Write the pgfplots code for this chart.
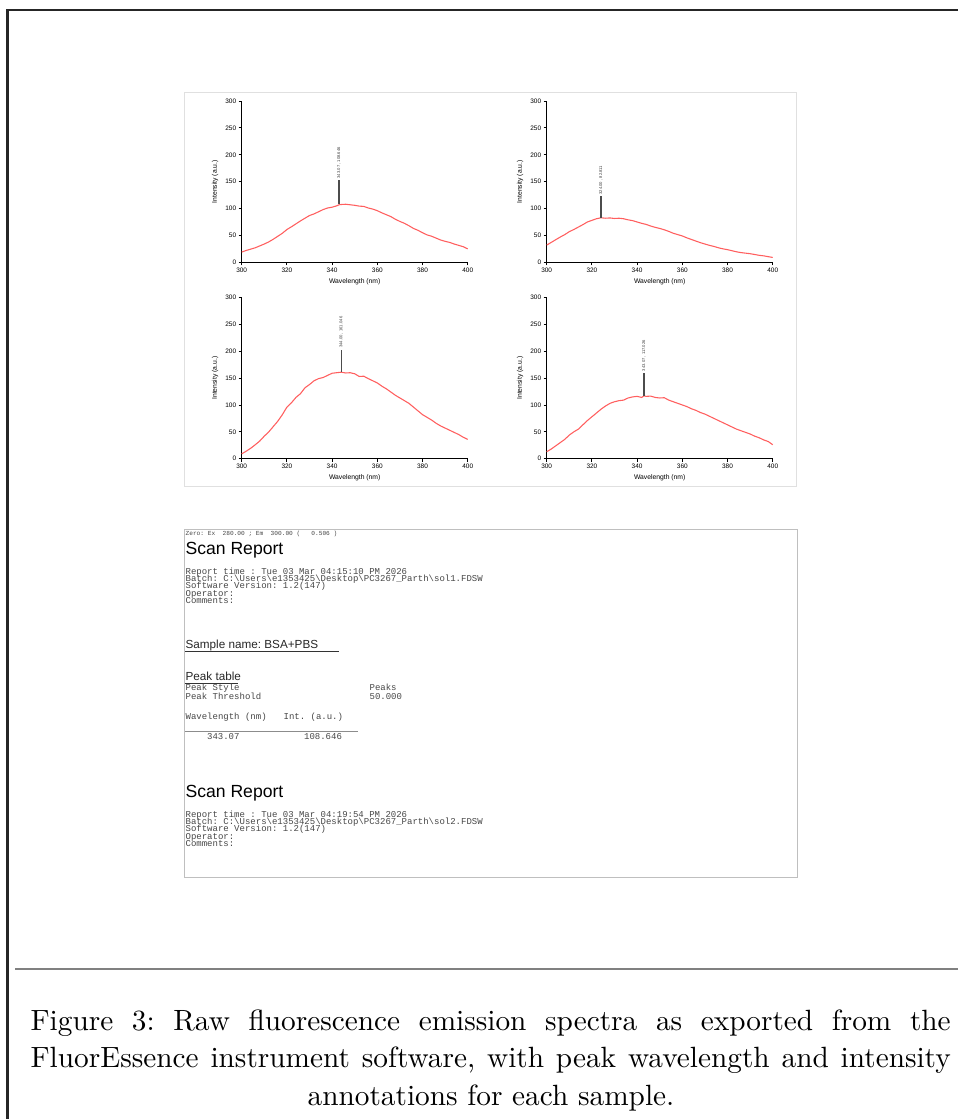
\documentclass[border=0pt]{standalone}
\usepackage{fontspec}
\usepackage{pgfplots}
\pgfplotsset{compat=1.18}
\newfontfamily\arial{Liberation Sans}
\newfontfamily\cour{Liberation Mono}
\definecolor{spec}{RGB}{255,95,95}
\definecolor{txtgray}{RGB}{70,70,70}
\pgfplotsset{specax/.style={
  scale only axis, width=73.3pt, height=52.3pt,
  xmin=300, xmax=400, ymin=0, ymax=300,
  axis lines=left, axis line style={-, line width=0.35pt, black},
  xtick={300,320,340,360,380,400}, ytick={0,50,100,150,200,250,300},
  tick align=outside, major tick length=1pt,
  tick style={line width=0.3pt, black},
  /pgf/number format/assume math mode=true,
  ticklabel style={font=\arial\fontsize{2.1}{2.3}\selectfont, inner sep=0.6pt},
  xlabel={Wavelength (nm)}, ylabel={Intensity (a.u.)},
  label style={font=\arial\fontsize{2.2}{2.4}\selectfont, inner sep=0pt},
  xlabel style={at={(axis description cs:0.5,0)}, anchor=north, yshift=-5.1pt},
  ylabel style={at={(axis description cs:-0.118,0.5)}, anchor=center},
  anchor=south west, clip=false,
}}
\pgfplotstableread{
x y
300 19
302 22
304 24.5
306 27
308 30.5
310 34
312 38
314 43
316 48.5
318 54
320 61
322 66
324 71.5
326 77
328 82
330 87
332 90
334 94
336 98
338 101
340 102.5
342 105
343.07 107
344 107.5
346 108
348 107
350 106
352 104.5
354 104
356 101
358 99
360 96
362 92
364 88.5
366 85
368 80
370 76
372 72.5
374 68
376 63
378 59.5
380 55
382 51
384 48.5
386 45
388 41.5
390 39
392 37
394 34
396 31.5
398 29
400 25
}\specA
\pgfplotstableread{
x y
300 32
302 37
304 42
306 47
308 51.5
310 57
312 61
314 65.5
316 70
318 75
320 78
322 81
324 82.8
326 82
328 82.5
330 81.5
332 82
334 81
336 79
338 77.5
340 75
342 72.5
344 70.5
346 67.5
348 65
350 63
352 60.5
354 57.5
356 54
358 51.5
360 49
362 45.5
364 42.5
366 39.5
368 36.5
370 34
372 31.5
374 29.5
376 27
378 25
380 23.5
382 21.5
384 19.5
386 18
388 17
390 16
392 14.5
394 13
396 12
398 10.5
400 9
}\specB
\pgfplotstableread{
x y
300 9
302 14
304 19.5
306 26
308 33
310 42
312 50
314 60
316 70
318 82
320 96
322 104
324 114
326 121
328 132
330 138
332 145
334 149
336 151
338 155
340 159
342 160
344 161
346 159.5
348 160
350 158
352 153
354 153.5
356 149
358 145
360 141
362 135
364 130
366 124
368 118
370 113
372 108
374 103
376 96
378 89
380 82
382 77
384 72
386 66
388 61
390 57
392 53
394 49
396 45
398 40
400 36
}\specC
\pgfplotstableread{
x y
300 13
302 18
304 24
306 30
308 36
310 44
312 50
314 55
316 63
318 71
320 78
322 85
324 92
326 98
328 103
330 106
332 108
334 109
336 113
338 115
340 116
342 114
343.07 117
344 116
346 116.5
348 114
350 113
352 113.5
354 109
356 106
358 103
360 100
362 97
364 93
366 90
368 86
370 83
372 79
374 75
376 71
378 67
380 63
382 59
384 55
386 52
388 49
390 46
392 42
394 39
396 35
398 32
400 26
}\specD
\newcommand{\pklabel}[1]{\arial\fontsize{1.35}{1.4}\selectfont #1}
\begin{document}
\frenchspacing
\begin{tikzpicture}
\begin{scope}[x=0.3243pt, y=-0.3243pt]
\useasboundingbox (0,0) rectangle (958,1119);
% frame
\draw[line width=0.65pt, black!85] (7.5,1119) -- (7.5,10) -- (958,10);
\draw[line width=0.65pt, black!50] (15,969) -- (958,969);
% image box
\draw[line width=0.3pt, black!12] (184,92) rectangle (796,486);
% report box
\draw[line width=0.3pt, black!25] (184,529) rectangle (797,877);
\end{scope}

% ---- plots ----
\begin{axis}[specax, at={(78.38pt,-85.06pt)}]
\addplot[spec, line width=0.35pt, no marks] table {\specA};
\addplot[black!70, line width=0.4pt, no marks] coordinates {(343.07,108.646) (343.07,153)};
\node[rotate=90, anchor=west, inner sep=0pt, text=black!75] at (axis cs:343.07,155) {\pklabel{343.07 , 108.646}};
\end{axis}
\begin{axis}[specax, at={(177.29pt,-85.06pt)}]
\addplot[spec, line width=0.35pt, no marks] table {\specB};
\addplot[black!70, line width=0.4pt, no marks] coordinates {(324.0,82.811) (324.0,123)};
\node[rotate=90, anchor=west, inner sep=0pt, text=black!75] at (axis cs:324.0,125) {\pklabel{324.00 , 82.811}};
\end{axis}
\begin{axis}[specax, at={(78.38pt,-148.76pt)}]
\addplot[spec, line width=0.35pt, no marks] table {\specC};
\addplot[black!70, line width=0.4pt, no marks] coordinates {(344.0,161.046) (344.0,203)};
\node[rotate=90, anchor=west, inner sep=0pt, text=black!75] at (axis cs:344.0,205) {\pklabel{344.00 , 161.046}};
\end{axis}
\begin{axis}[specax, at={(177.29pt,-148.76pt)}]
\addplot[spec, line width=0.35pt, no marks] table {\specD};
\addplot[black!70, line width=0.4pt, no marks] coordinates {(343.07,117.026) (343.07,160)};
\node[rotate=90, anchor=west, inner sep=0pt, text=black!75] at (axis cs:343.07,162) {\pklabel{343.07 , 117.026}};
\end{axis}

% ---- report ----
\begin{scope}[x=0.3243pt, y=-0.3243pt, every node/.style={inner sep=0pt, anchor=base west}]
\def\mono{\cour\fontsize{2.92}{3.2}\selectfont\color{txtgray}}
\def\head{\arial\fontsize{5.7}{6}\selectfont}
\def\sub{\arial\fontsize{3.8}{4}\selectfont\color{black!85}}
\node at (185,535) {\cour\fontsize{2.0}{2.2}\selectfont\color{txtgray}Zero: Ex~~280.00 ; Em~~300.00 (~~~0.506 )};
\node at (185,554) {\head Scan Report};
\node at (185,574) {\mono Report time : Tue 03 Mar 04:15:10 PM 2026};
\node at (185,581.3) {\mono Batch: C:\textbackslash Users\textbackslash e1353425\textbackslash Desktop\textbackslash PC3267\_Parth\textbackslash sol1.FDSW};
\node at (185,588.7) {\mono Software Version: 1.2(147)};
\node at (185,596) {\mono Operator:};
\node at (185,603.3) {\mono Comments:};
\node at (185,648) {\sub Sample name: BSA+PBS};
\draw[line width=0.3pt, black!80] (185,651) -- (339,651);
\node at (185,680) {\sub Peak table};
\draw[line width=0.3pt, black!80] (185,683) -- (238,683);
\node at (185,690.7) {\mono Peak Style};
\node at (369,690.7) {\mono Peaks};
\node at (185,699.7) {\mono Peak Threshold};
\node at (369,699.7) {\mono 50.000};
\node at (185,719) {\mono Wavelength (nm)};
\node at (283,719) {\mono Int. (a.u.)};
\draw[line width=0.6pt, black!45] (185,731.5) -- (358,731.5);
\node at (206.5,739) {\mono 343.07};
\node at (303.5,739) {\mono 108.646};
\node at (185,797) {\head Scan Report};
\node at (185,817) {\mono Report time : Tue 03 Mar 04:19:54 PM 2026};
\node at (185,824.3) {\mono Batch: C:\textbackslash Users\textbackslash e1353425\textbackslash Desktop\textbackslash PC3267\_Parth\textbackslash sol2.FDSW};
\node at (185,831.6) {\mono Software Version: 1.2(147)};
\node at (185,839) {\mono Operator:};
\node at (185,846.3) {\mono Comments:};
% caption
\node at (30,1030) {\fontsize{9.5}{11}\selectfont\frenchspacing\makebox[298.4pt][s]{Figure 3: Raw fluorescence emission spectra as exported from the}};
\node at (30,1067.5) {\fontsize{9.5}{11}\selectfont\frenchspacing\makebox[298.4pt][s]{FluorEssence instrument software, with peak wavelength and intensity}};
\node[anchor=base] at (491,1105) {\fontsize{9.5}{11}\selectfont annotations for each sample.};
\end{scope}
\end{tikzpicture}
\end{document}
